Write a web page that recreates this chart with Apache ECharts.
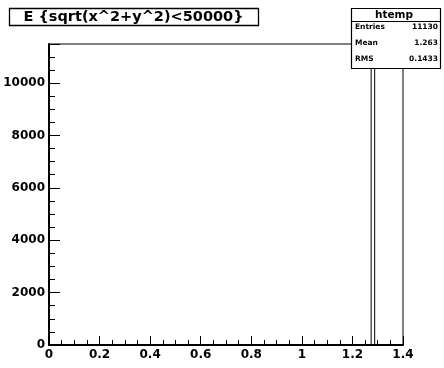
<!DOCTYPE html>
<html>
<head>
<meta charset="utf-8">
<script src="https://cdn.jsdelivr.net/npm/echarts@6/dist/echarts.min.js"></script>
<style>html,body{margin:0;padding:0;background:#fff}#c{width:444px;height:368px}</style>
</head>
<body>
<div id="c"></div>
<script>
// Histogram definition
const xMin = 0, xMax = 1.4, nBins = 100;
const filledBinIndex = [91];
const filledBinCount = [10940];
const yMax = 11490;
const xTickLabels = [0, 0.2, 0.4, 0.6, 0.8, 1, 1.2, 1.4];
const yTickLabels = [0, 2000, 4000, 6000, 8000, 10000];
const titleText = 'E {sqrt(x^2+y^2)<50000}';
const statsName = 'htemp';
const statsKeys = ['Entries', 'Mean', 'RMS'];
const statsVals = ['11130', '1.263', '0.1433'];

const counts = new Array(nBins).fill(0);
filledBinIndex.forEach((b, k) => { counts[b] = filledBinCount[k]; });
const w = (xMax - xMin) / nBins;
const pts = [];
for (let i = 0; i < nBins; i++) pts.push([xMin + i * w, counts[i]]);
pts.push([xMax, counts[nBins - 1]]);
pts.push([xMax, 0]);

const FONT = '"DejaVu Sans", sans-serif';
const chart = echarts.init(document.getElementById('c'), null, {renderer: 'canvas'});
const rowsY = [27, 43, 59];
const graphics = [
  {type: 'rect', shape: {x: 9.5, y: 8.5, width: 249, height: 17}, style: {fill: '#fff', stroke: '#000', lineWidth: 1.3}, z: 100},
  {type: 'text', x: 133.5, y: 17.5, style: {text: titleText, font: 'bold 14.5px ' + FONT, fill: '#000', align: 'center', verticalAlign: 'middle'}, z: 101},
  {type: 'rect', shape: {x: 351.5, y: 8.5, width: 89, height: 60}, style: {fill: '#fff', stroke: '#000', lineWidth: 1.2}, z: 100},
  {type: 'line', shape: {x1: 351.5, y1: 21.5, x2: 440.5, y2: 21.5}, style: {stroke: '#000', lineWidth: 1}, z: 101},
  {type: 'text', x: 394, y: 15, style: {text: statsName, font: 'bold 10.5px ' + FONT, fill: '#000', align: 'center', verticalAlign: 'middle'}, z: 101}
];
statsKeys.forEach((k, i) => {
  graphics.push({type: 'text', x: 355, y: rowsY[i], style: {text: k, font: 'bold 7.5px ' + FONT, fill: '#000', align: 'left', verticalAlign: 'middle'}, z: 101});
  graphics.push({type: 'text', x: 438, y: rowsY[i], style: {text: statsVals[i], font: 'bold 7.5px ' + FONT, fill: '#000', align: 'right', verticalAlign: 'middle'}, z: 101});
});

const labelStyle = {color: '#000', fontFamily: FONT, fontWeight: 'bold', fontSize: 12};
chart.setOption({
  animation: false,
  backgroundColor: '#fff',
  grid: {left: 49, top: 44, right: 41, bottom: 23, show: true, borderColor: '#000', borderWidth: 1, backgroundColor: 'transparent'},
  xAxis: {
    type: 'value', min: xMin, max: xMax, interval: 0.2,
    axisLine: {show: true, lineStyle: {color: '#000', width: 2}},
    axisTick: {show: true, inside: true, length: 9, lineStyle: {color: '#000', width: 1}},
    minorTick: {show: true, splitNumber: 4, length: 5, lineStyle: {color: '#000', width: 1}},
    splitLine: {show: false},
    axisLabel: Object.assign({margin: 4, formatter: v => {
      const m = xTickLabels.find(t => Math.abs(t - v) < 1e-6);
      return m === undefined ? '' : String(m);
    }}, labelStyle)
  },
  yAxis: [
    {
      type: 'value', min: 0, max: yMax, interval: 500,
      axisLine: {show: true, lineStyle: {color: '#000', width: 2}},
      axisTick: {show: true, inside: true, length: 6, lineStyle: {color: '#000', width: 1}},
      splitLine: {show: false},
      axisLabel: Object.assign({margin: 4, showMaxLabel: false, formatter: v => {
        const m = yTickLabels.find(t => Math.abs(t - v) < 1e-6);
        return m === undefined ? '' : String(m);
      }}, labelStyle)
    },
    {
      type: 'value', min: 0, max: yMax, interval: 2000, position: 'left',
      axisLine: {show: false},
      axisTick: {show: true, inside: true, length: 11, lineStyle: {color: '#000', width: 1}},
      splitLine: {show: false},
      axisLabel: {show: false}
    }
  ],
  series: [{
    type: 'line', step: 'end', data: pts, symbol: 'none', yAxisIndex: 0,
    lineStyle: {color: '#000', width: 1}, z: 5
  }],
  graphic: graphics
});
</script>
</body>
</html>
